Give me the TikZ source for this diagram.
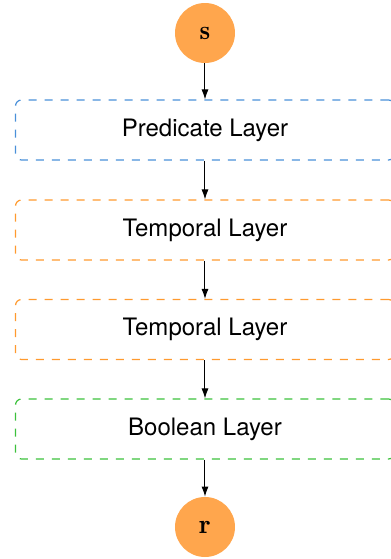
\documentclass[tikz,border=0pt]{standalone}
\usepackage{fontspec}
\newfontfamily\layerfont{TeX Gyre Heros}
\usetikzlibrary{arrows.meta}
\definecolor{predblue}{HTML}{4A90D9}
\definecolor{tempamber}{HTML}{FF9A2E}
\definecolor{boolgreen}{HTML}{3CC13C}
\definecolor{ioorange}{HTML}{FFA64D}
\tikzset{
  io/.style={circle, fill=ioorange, minimum size=30pt, inner sep=0pt,
    font=\fontsize{13.5}{16}\selectfont},
  layer/.style={rectangle, rounded corners=3pt, dash pattern=on 4pt off 4pt,
    line width=0.6pt, minimum width=189.5pt, minimum height=30pt,
    font=\layerfont\fontsize{12}{14}\selectfont},
}
\begin{document}
\begin{tikzpicture}[x=1pt,y=1pt]
      \useasboundingbox (0,0) rectangle (195.5,-279.5);
      \draw
        (102.5,-16.5) node[io] (s){$\mathbf{s}$}
        (102.5,-65) node[layer, draw=predblue] (pred){Predicate Layer}
        (102.5,-115) node[layer, draw=tempamber] (temp1){Temporal Layer}
        (102.5,-164.75) node[layer, draw=tempamber] (temp2){Temporal Layer}
        (102.5,-214.5) node[layer, draw=boolgreen] (bool){Boolean Layer}
        (102.5,-263.5) node[io] (r){$\mathbf{r}$};
      \begin{scope}[-{Latex[length=5pt,width=3.5pt]}, line width=0.5pt]
        \draw (s) to (pred);
        \draw (pred) to (temp1);
        \draw (temp1) to (temp2);
        \draw (temp2) to (bool);
        \draw (bool) to (r);
      \end{scope}
    \end{tikzpicture}
\end{document}
